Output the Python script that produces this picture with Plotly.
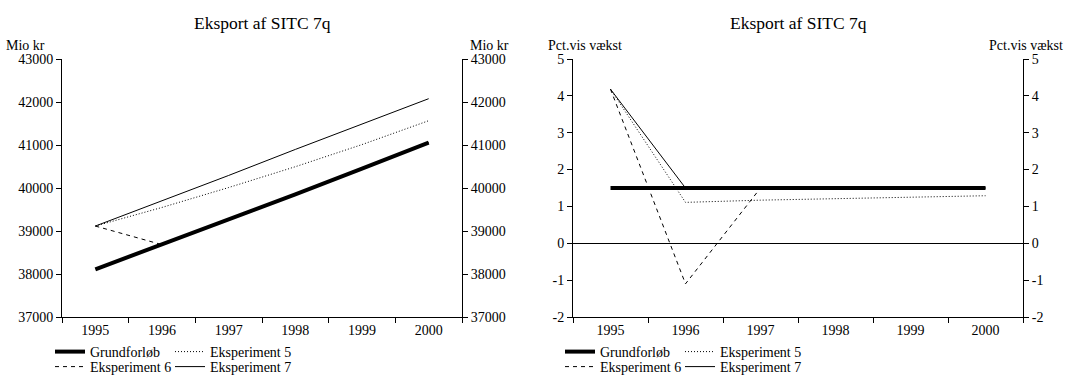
import plotly.graph_objects as go

years = ["1995", "1996", "1997", "1998", "1999", "2000"]

# Left chart: level, Mio kr
niveau_grund = [38110, 38682, 39262, 39851, 40449, 41056]
niveau_eksp5 = [39115, 39548, 40011, 40495, 41010, 41565]
niveau_eksp6 = [39115, 38682, 39262, 39851, 40449, 41056]
niveau_eksp7 = [39115, 39697, 40292, 40897, 41490, 42077]

# Right chart: growth in percent
vaekst_grund = [1.5, 1.5, 1.5, 1.5, 1.5, 1.5]
vaekst_eksp5 = [4.18, 1.11, 1.17, 1.21, 1.25, 1.29]
vaekst_eksp6 = [4.18, -1.10, 1.5, 1.5, 1.5, 1.5]
vaekst_eksp7 = [4.18, 1.5, 1.5, 1.5, 1.5, 1.5]

series_names = ["Grundforløb", "Eksperiment 5", "Eksperiment 6", "Eksperiment 7"]

left_tickvals = [37000, 38000, 39000, 40000, 41000, 42000, 43000]
left_ticktext = ["37000", "38000", "39000", "40000", "41000", "42000", "43000"]
right_tickvals = [-2, -1, 0, 1, 2, 3, 4, 5]
right_ticktext = ["-2", "-1", "0", "1", "2", "3", "4", "5"]

title_text = "Eksport af SITC 7q"
left_unit = "Mio kr"
right_unit = "Pct.vis vækst"

FONT = "Liberation Serif, Times New Roman, serif"
W, H = 1067, 376
ML, MR, MT, MB = 62, 44, 59, 59
PW = W - ML - MR
PH = H - MT - MB


def px(xp):
    return (xp - ML) / PW


def py(yp):
    return (H - MB - yp) / PH


styles = [
    dict(color="black", width=4),
    dict(color="black", width=1, dash="1px,2px"),
    dict(color="black", width=1, dash="4px,4px"),
    dict(color="black", width=1),
]

fig = go.Figure()

left_data = [niveau_grund, niveau_eksp5, niveau_eksp6, niveau_eksp7]
right_data = [vaekst_grund, vaekst_eksp5, vaekst_eksp6, vaekst_eksp7]

# legend placement: (text-left pixel, row center pixel)
row1, row2 = 352, 367
left_leg = [(90, row1), (210, row1), (90, row2), (210, row2)]
right_leg = [(600, row1), (720, row1), (600, row2), (720, row2)]

legend_font = dict(family=FONT, size=14, color="black")
legend_layout = {}
for i, (name, vals, st) in enumerate(zip(series_names, left_data, styles)):
    lid = "legend" if i == 0 else f"legend{i + 1}"
    fig.add_trace(go.Scatter(x=years, y=vals, mode="lines", name=name, line=st,
                             xaxis="x", yaxis="y", legend=lid, hoverinfo="skip"))
    tx, ty = left_leg[i]
    legend_layout[lid] = dict(x=px(tx - 40), xanchor="left", y=py(ty), yanchor="middle",
                              font=legend_font, bgcolor="rgba(0,0,0,0)", borderwidth=0)
for i, (name, vals, st) in enumerate(zip(series_names, right_data, styles)):
    lid = f"legend{i + 5}"
    fig.add_trace(go.Scatter(x=years, y=vals, mode="lines", name=name, line=st,
                             xaxis="x2", yaxis="y2", legend=lid, hoverinfo="skip"))
    tx, ty = right_leg[i]
    legend_layout[lid] = dict(x=px(tx - 40), xanchor="left", y=py(ty), yanchor="middle",
                              font=legend_font, bgcolor="rgba(0,0,0,0)", borderwidth=0)

# invisible carriers for the right-hand axes
fig.add_trace(go.Scatter(x=years, y=niveau_grund, mode="none", showlegend=False,
                         xaxis="x", yaxis="y3", hoverinfo="skip"))
fig.add_trace(go.Scatter(x=years, y=vaekst_grund, mode="none", showlegend=False,
                         xaxis="x2", yaxis="y4", hoverinfo="skip"))

tickfont = dict(family=FONT, size=14, color="black")
xcommon = dict(type="category", categoryorder="array", categoryarray=years,
               range=[-0.5, 5.5], tickson="boundaries", ticks="outside", ticklen=5,
               tickcolor="black", showline=True, linecolor="black", linewidth=1,
               showgrid=False, zeroline=False, tickfont=tickfont, fixedrange=True)
ycommon = dict(ticks="outside", ticklen=5, tickcolor="black", showline=True,
               linecolor="black", linewidth=1, showgrid=False, tickfont=tickfont,
               tickmode="array", fixedrange=True)

x1_dom = [0, px(462)]
x2_dom = [px(573), 1]

fig.update_layout(
    width=W, height=H,
    margin=dict(l=ML, r=MR, t=MT, b=MB, autoexpand=False),
    paper_bgcolor="white", plot_bgcolor="white",
    font=dict(family=FONT, color="black"),
    xaxis=dict(domain=x1_dom, anchor="y", **xcommon),
    xaxis2=dict(domain=x2_dom, anchor="y2", **xcommon),
    yaxis=dict(domain=[0, 1], anchor="x", range=[37000, 43000], tickvals=left_tickvals,
               ticktext=left_ticktext, zeroline=False, **ycommon),
    yaxis3=dict(overlaying="y", side="right", anchor="x", range=[37000, 43000],
                tickvals=left_tickvals, ticktext=left_ticktext, zeroline=False, **ycommon),
    yaxis2=dict(domain=[0, 1], anchor="x2", range=[-2, 5], tickvals=right_tickvals,
                ticktext=right_ticktext, zeroline=True, zerolinecolor="black",
                zerolinewidth=1, **ycommon),
    yaxis4=dict(overlaying="y2", side="right", anchor="x2", range=[-2, 5],
                tickvals=right_tickvals, ticktext=right_ticktext, zeroline=False, **ycommon),
    showlegend=True,
    **legend_layout,
)

ann_font = dict(family=FONT, size=14, color="black")
title_font = dict(family=FONT, size=17.5, color="black")
annotations = [
    dict(text=title_text, x=(x1_dom[0] + x1_dom[1]) / 2, y=py(23), xanchor="center",
         yanchor="middle", font=title_font),
    dict(text=title_text, x=(x2_dom[0] + x2_dom[1]) / 2, y=py(23), xanchor="center",
         yanchor="middle", font=title_font),
    dict(text=left_unit, x=px(47), y=py(46), xanchor="right", yanchor="middle", font=ann_font),
    dict(text=left_unit, x=px(511), y=py(46), xanchor="right", yanchor="middle", font=ann_font),
    dict(text=right_unit, x=px(546), y=py(46), xanchor="left", yanchor="middle", font=ann_font),
    dict(text=right_unit, x=px(1065), y=py(46), xanchor="right", yanchor="middle", font=ann_font),
]
for a in annotations:
    a.update(xref="paper", yref="paper", showarrow=False)
fig.update_layout(annotations=annotations)

fig.write_html("out.html", config={"displayModeBar": False},
               post_script="document.body.style.margin='0px';")
